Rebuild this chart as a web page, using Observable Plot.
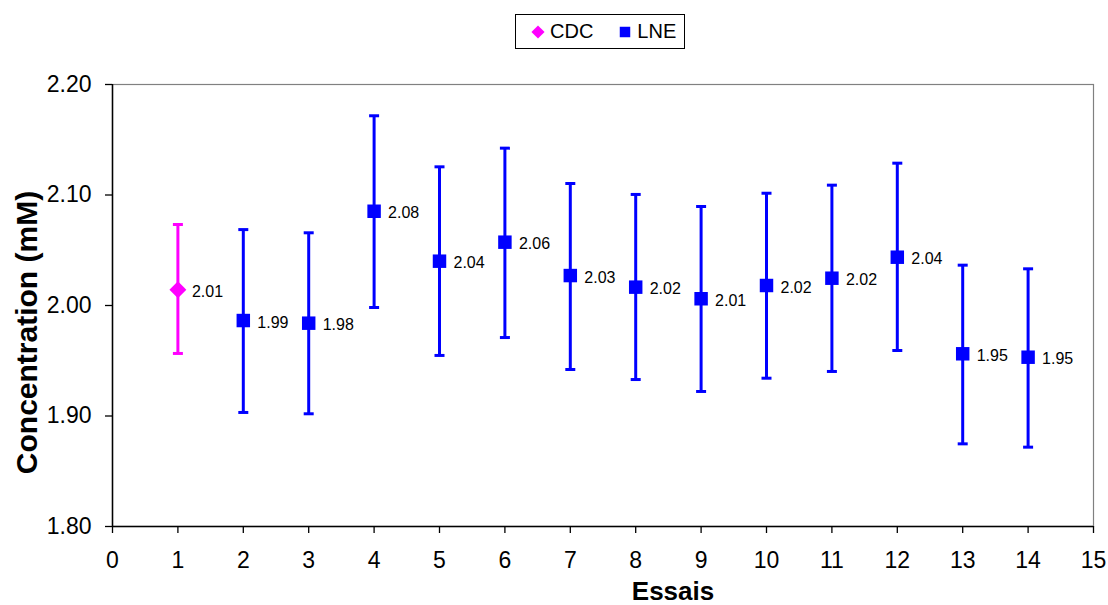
<!DOCTYPE html>
<html>
<head>
<meta charset="utf-8">
<script src="https://cdn.jsdelivr.net/npm/d3@7"></script>
<script src="https://cdn.jsdelivr.net/npm/@observablehq/plot@0.6"></script>
<style>
  html, body { margin: 0; padding: 0; background: #fff; }
  body { font-family: "Liberation Sans", Arial, sans-serif; width: 1108px; }
  #legend { position: relative; width: 1108px; height: 70px; }
  #legend .box { position: absolute; left: 515px; top: 14px; width: 170px; height: 35px; border: 1px solid #000; box-sizing: border-box; display: flex; align-items: center; font-size: 20px; color: #000; }
  #legend .item { display: flex; align-items: center; }
  #legend svg { display: block; }
</style>
</head>
<body>
<div id="legend"></div>
<div id="chart"></div>
<script>
const trials = [1, 2, 3, 4, 5, 6, 7, 8, 9, 10, 11, 12, 13, 14];
const series = ["CDC", "LNE", "LNE", "LNE", "LNE", "LNE", "LNE", "LNE", "LNE", "LNE", "LNE", "LNE", "LNE", "LNE"];
const means = [2.0142, 1.9864, 1.9840, 2.0853, 2.0401, 2.0573, 2.0271, 2.0166, 2.0061, 2.0181, 2.0247, 2.0437, 1.9563, 1.9532];
const highs = [2.0733, 2.0687, 2.0658, 2.1717, 2.1255, 2.1424, 2.1104, 2.1005, 2.0896, 2.1016, 2.1089, 2.1288, 2.0365, 2.0332];
const lows = [1.9566, 1.9032, 1.9020, 1.9982, 1.9548, 1.9710, 1.9421, 1.9330, 1.9222, 1.9342, 1.9403, 1.9593, 1.8748, 1.8718];
const labels = ["2.01", "1.99", "1.98", "2.08", "2.04", "2.06", "2.03", "2.02", "2.01", "2.02", "2.02", "2.04", "1.95", "1.95"];
const xTicks = [0, 1, 2, 3, 4, 5, 6, 7, 8, 9, 10, 11, 12, 13, 14, 15];
const yTicks = [1.8, 1.9, 2.0, 2.1, 2.2];
const seriesNames = ["CDC", "LNE"];
const seriesColors = ["#FF00FF", "#0000FF"];
const seriesSymbols = ["diamond2", "square"];

const data = trials.map((t, i) => ({trial: t, series: series[i], mean: means[i], hi: highs[i], lo: lows[i], label: labels[i]}));
const colorOf = s => seriesColors[seriesNames.indexOf(s)];

const capSymbol = {
  draw(ctx, size) {
    const r = Math.sqrt(size / Math.PI);
    ctx.moveTo(-r, 0);
    ctx.lineTo(r, 0);
  }
};

const font = '"Liberation Sans", Arial, sans-serif';

const chart = Plot.plot({
  width: 1108,
  height: 535,
  marginLeft: 112,
  marginRight: 15,
  marginTop: 14,
  marginBottom: 79,
  style: {fontFamily: font, fontSize: "23px", color: "#000", background: "#fff", overflow: "visible"},
  x: {domain: [0, 15], ticks: xTicks},
  y: {domain: [1.8, 2.2], ticks: yTicks},
  marks: [
    Plot.frame({stroke: "#808080", strokeWidth: 1.2}),
    Plot.axisX({ticks: xTicks, tickSize: 7, tickPadding: 18, label: null, fontSize: 23, stroke: "#000", strokeWidth: 1.3, tickFormat: d3.format("d")}),
    Plot.axisY({ticks: yTicks, tickSize: 7, tickPadding: 14, label: null, fontSize: 23, stroke: "#000", strokeWidth: 1.3, tickFormat: d3.format(".2f")}),
    Plot.ruleX([0], {stroke: "#000", strokeWidth: 1.5}),
    Plot.ruleY([1.8], {stroke: "#000", strokeWidth: 1.5}),
    Plot.ruleX(data, {x: "trial", y1: "lo", y2: "hi", stroke: d => colorOf(d.series), strokeWidth: 3}),
    Plot.dot(data, {x: "trial", y: "hi", symbol: capSymbol, r: 5, stroke: d => colorOf(d.series), strokeWidth: 3, fill: "none"}),
    Plot.dot(data, {x: "trial", y: "lo", symbol: capSymbol, r: 5, stroke: d => colorOf(d.series), strokeWidth: 3, fill: "none"}),
    Plot.dot(data, {x: "trial", y: "mean", symbol: d => seriesSymbols[seriesNames.indexOf(d.series)], r: 7.6, fill: d => colorOf(d.series), stroke: "none"}),
    Plot.text(data, {x: "trial", y: "mean", text: "label", dx: 14, dy: 2, textAnchor: "start", fontSize: 16, fill: "#000"}),
    Plot.text(["Essais"], {frameAnchor: "bottom", textAnchor: "middle", dx: 70, dy: 73, fontSize: 26, fontWeight: "bold", fill: "#000"}),
    Plot.text(["Concentration (mM)"], {frameAnchor: "left", textAnchor: "middle", lineAnchor: "middle", dx: -85, dy: 27, rotate: -90, fontSize: 30, fontWeight: "bold", fill: "#000"})
  ]
});
document.getElementById("chart").appendChild(chart);

// Legend (HTML, above the SVG)
const box = d3.select("#legend").append("div").attr("class", "box");
const legendItems = [
  {name: "CDC", color: seriesColors[0], symbol: d3.symbolDiamond2, padLeft: 14},
  {name: "LNE", color: seriesColors[1], symbol: d3.symbolSquare, padLeft: 24}
];
for (const it of legendItems) {
  const item = box.append("div").attr("class", "item").style("margin-left", it.padLeft + "px");
  const s = item.append("svg").attr("width", 16).attr("height", 16);
  s.append("path").attr("transform", "translate(8,8)").attr("d", d3.symbol(it.symbol, 110)()).attr("fill", it.color);
  item.append("span").style("margin-left", "4px").text(it.name);
}
</script>
</body>
</html>
